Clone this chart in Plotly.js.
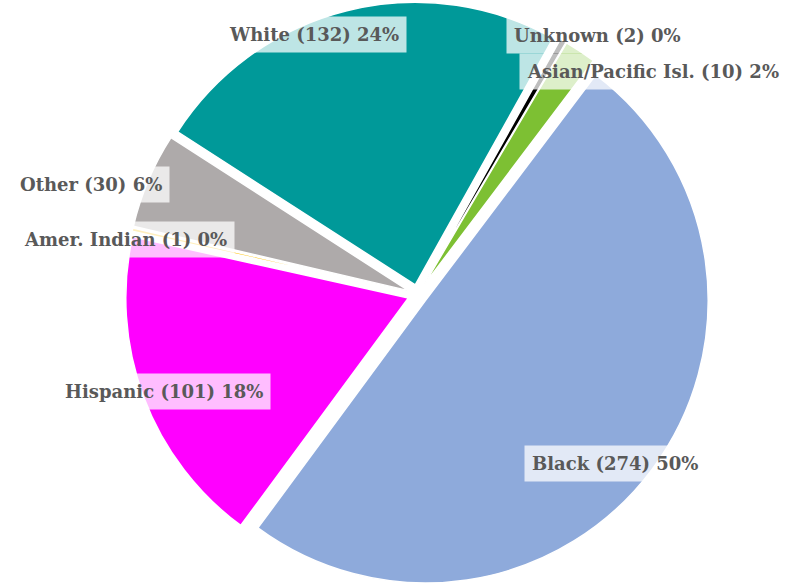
<!DOCTYPE html>
<html>
<head>
<meta charset="utf-8">
<script src="https://cdn.plot.ly/plotly-3.0.1.min.js"></script>
<style>
  html, body { margin: 0; padding: 0; background: #ffffff; }
  #chart { width: 788px; height: 587px; }
</style>
</head>
<body>
<div id="chart"></div>
<script>
// slices, clockwise from the small green one at the top
var groups = ['Asian/Pacific Isl.', 'Black', 'Hispanic', 'Amer. Indian', 'Other', 'White', 'Unknown'];
var counts = [10, 274, 101, 1, 30, 132, 2];
var percents = [2, 50, 18, 0, 6, 24, 0];   // as printed on the labels
var colors = ['#7dc033', '#8eaadb', '#ff00ff', '#ffc000', '#aeaaaa', '#009999', '#000000'];

// where each data label box sits (paper px, centre of the text)
var labelX = [653, 615, 164, 125, 91, 314, 597];
var labelY = [70, 463, 391, 238, 183, 33, 34];

var W = 788, H = 587;

var annotations = groups.map(function (g, i) {
  return {
    text: g + ' (' + counts[i] + ') ' + percents[i] + '%',
    xref: 'paper', yref: 'paper',
    x: labelX[i] / W, y: 1 - labelY[i] / H,
    xanchor: 'center', yanchor: 'middle',
    showarrow: false,
    bgcolor: 'rgba(255,255,255,0.74)',
    borderpad: 7,
    font: {family: 'DejaVu Serif', size: 18, color: '#595959', weight: 'bold'}
  };
});

var trace = {
  type: 'pie',
  labels: groups,
  values: counts,
  sort: false,
  direction: 'clockwise',
  rotation: 30.5,
  pull: 0.035,
  marker: {colors: colors, line: {color: '#ffffff', width: 1.5}},
  textinfo: 'none',
  hoverinfo: 'label+value+percent',
  domain: {x: [0.06, 1], y: [0, 1]}
};

var layout = {
  width: W,
  height: H,
  margin: {l: 0, r: 0, t: 2, b: 0},
  paper_bgcolor: '#ffffff',
  showlegend: false,
  annotations: annotations
};

Plotly.newPlot('chart', [trace], layout, {displayModeBar: false, staticPlot: true});
</script>
</body>
</html>
